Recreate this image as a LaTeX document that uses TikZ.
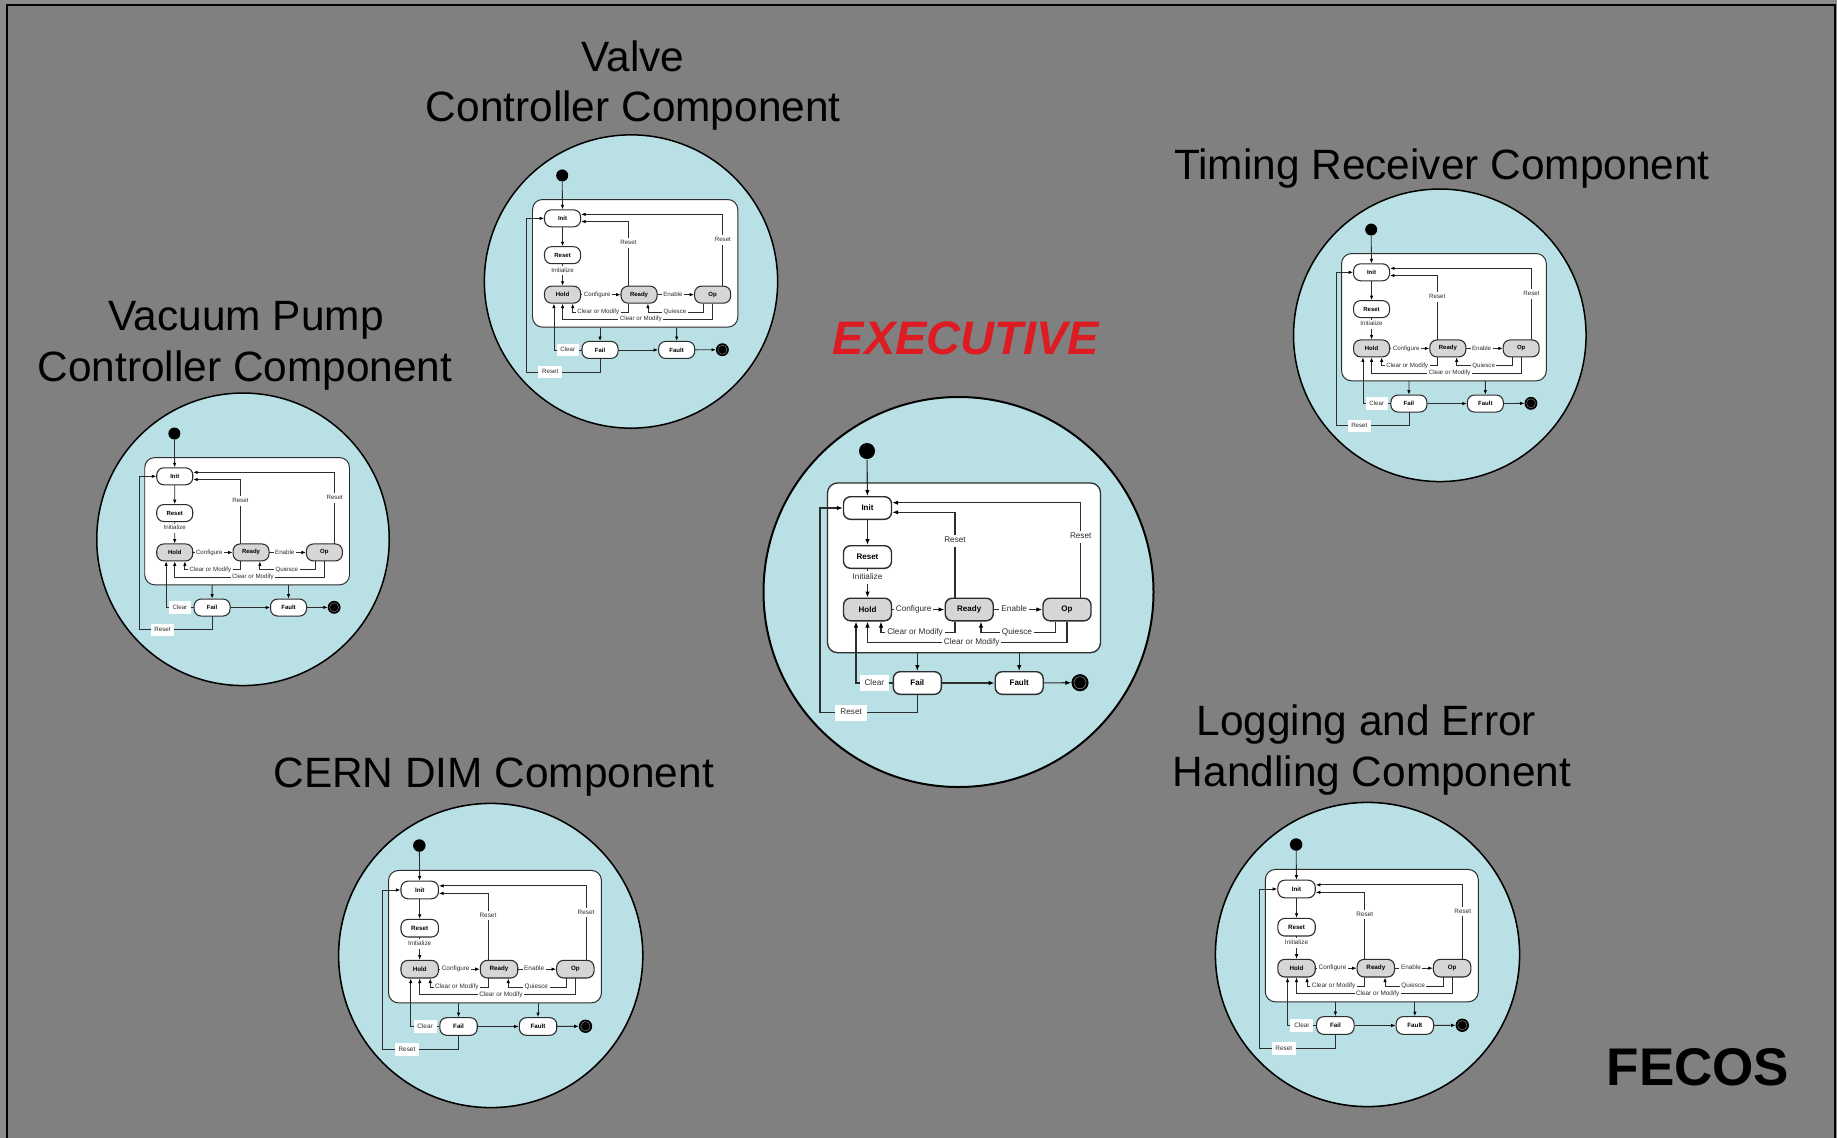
\documentclass[tikz,border=0pt]{standalone}
\usepackage{fontspec}
\setmainfont{Liberation Sans}
\usetikzlibrary{arrows.meta}
\definecolor{outergray}{RGB}{140,140,140}
\definecolor{bggray}{RGB}{128,128,128}
\definecolor{cyanfill}{RGB}{185,224,228}
\definecolor{stategray}{RGB}{214,214,214}
\definecolor{lncol}{RGB}{45,45,45}
\definecolor{exred}{RGB}{220,28,34}
\tikzset{
  stbox/.style={draw=lncol, rectangle, rounded corners=7pt, fill=white,
    minimum width=48pt, minimum height=22.6pt, inner sep=0pt,
    font=\fontsize{8}{9}\selectfont\bfseries, text=black},
  stgray/.style={stbox, fill=stategray},
  lbl/.style={fill=white, inner xsep=2pt, inner ysep=2.5pt, text height=5.8pt,
    text depth=1.6pt, font=\fontsize{8.2}{9}\selectfont, text=lncol},
  lblbox/.style={lbl, inner xsep=5pt, inner ysep=4.5pt},
  title/.style={anchor=base, font=\fontsize{42.4}{50}\selectfont, text=black, inner sep=0pt},
}
\newcommand\fsm[4]{%
\begin{scope}[shift={(#2,#3)}, scale=#4, transform shape, line width=#4*1.1pt,
  arr/.style={draw=lncol, -{Latex[length=6pt,width=4.5pt,scale=#4,color=black]}}]
  \node[circle, draw=black, line width=#4*2pt, fill=cyanfill, minimum size=390pt, inner sep=0pt] (#1circ) at (0,0) {};
  \node[draw=lncol, line width=#4*1.3pt, rounded corners=10pt, fill=white,
    minimum width=273pt, minimum height=169.7pt, inner sep=0pt] (#1box) at (5.5,-24.15) {};
  \node[circle, fill=black, minimum size=16pt, inner sep=0pt] (#1start) at (-91.5,-141) {};
  \node[stbox, line width=#4*1.4pt] (#1init) at (-91,-84) {Init};
  \node[stbox, line width=#4*1.4pt] (#1reset) at (-91,-35) {Reset};
  \node[stgray, line width=#4*1.4pt] (#1hold) at (-91,17.5) {Hold};
  \node[stgray, line width=#4*1.4pt] (#1ready) at (10.7,17.5) {Ready};
  \node[stgray, line width=#4*1.4pt] (#1op) at (108.5,17.5) {Op};
  \node[stbox, line width=#4*1.4pt] (#1fail) at (-41.2,91) {Fail};
  \node[stbox, line width=#4*1.4pt] (#1fault) at (60.7,91) {Fault};
  \node[circle, draw=black, fill=black, minimum size=16pt, inner sep=0pt] (#1end) at (121.5,90.7) {};
  \draw[gray, line width=#4*0.6pt] (#1end) circle (6pt);
  \coordinate (#1xa) at (-3.5,-79.7);
  \coordinate (#1xb) at (122.2,-89.3);
  \coordinate (#1xc) at (-77.5,40.7);
  \coordinate (#1xd) at (96.8,0);
  \coordinate (#1xe) at (22.5,40.7);
  \coordinate (#1xg) at (0,50.3);
  \coordinate (#1xh) at (-102.5,0);
  \coordinate (#1xi) at (-138.5,120.7);
  \draw[arr] (#1start) -- (#1init);
  \draw[arr] (#1init) -- (#1reset);
  \draw[arr] (#1reset) -- node[lbl,pos=0.3]{Initialize} (#1hold);
  \draw[arr] (#1hold) -- node[lbl,pos=0.41]{Configure} (#1ready);
  \draw[arr] (#1ready) -- node[lbl,pos=0.42]{Enable} (#1op);
  \draw[arr] (#1ready.north -| #1xa) |- node[lbl,pos=0.333]{Reset} (#1init.east |- #1xa);
  \draw[arr] (#1op.north -| #1xb) |- node[lbl,pos=0.32]{Reset} (#1init.east |- #1xb);
  \draw[arr] (#1ready.south -| #1xa) |- node[lbl,pos=0.77]{Clear or Modify} (#1xc) -- (#1hold.south -| #1xc);
  \draw[arr] (#1op.south -| #1xd) |- node[lbl,pos=0.758]{Quiesce} (#1xe) -- (#1ready.south -| #1xe);
  \draw[arr] (#1op.south) |- node[lbl,pos=0.739]{Clear or Modify} (#1hold.south |- #1xg) -- (#1hold.south);
  \draw[arr] (#1box.south -| #1fail) -- (#1fail);
  \draw[arr] (#1box.south -| #1fault) -- (#1fault);
  \draw[arr] (#1fail) -- (#1fault);
  \draw[arr] (#1fault) -- (#1end);
  \draw[arr] (#1fail.west) -| node[lblbox,pos=0.25]{Clear} (#1hold.south -| #1xh);
  \draw[arr] (#1fail.south) |- node[lblbox,pos=0.84]{Reset} (#1xi) |- (#1init.west);
\end{scope}}
\begin{document}
\begin{tikzpicture}[x=1pt,y=-1pt]
  \useasboundingbox (0,0) rectangle (1837,1138);
  \fill[outergray] (0,0) rectangle (1837,1138);
  \draw[black, line width=2pt, fill=bggray] (6.7,5) rectangle (1835,1148);
  % titles
  \node[title] (ttl-valve1) at (633,71.7) {Valve};
  \node[title] (ttl-valve2) at (633.3,121.7) {Controller Component};
  \node[title] (ttl-timing) at (1442,179.3) {Timing Receiver Component};
  \node[title] (ttl-vac1) at (246.2,330) {Vacuum Pump};
  \node[title] (ttl-vac2) at (245,381.7) {Controller Component};
  \node[title] (ttl-cern) at (493.7,787.3) {CERN DIM Component};
  \node[title] (ttl-log1) at (1366.3,735) {Logging and Error};
  \node[title] (ttl-log2) at (1372,786) {Handling Component};
  \node[anchor=base, font=\fontsize{47}{56}\selectfont\bfseries\itshape, text=exred, inner sep=0pt] (exec-title) at (966,354.3) {EXECUTIVE};
  \node[anchor=base, font=\fontsize{53}{60}\selectfont\bfseries, text=black, inner sep=0pt] (fecos) at (1698,1085) {FECOS};
  % components
  \fsm{ex}{958.5}{592}{1}
  \fsm{va}{631}{281.5}{0.752}
  \fsm{ti}{1439.8}{335.3}{0.75}
  \fsm{vp}{243}{539.3}{0.75}
  \fsm{ce}{490.7}{955.5}{0.78}
  \fsm{lo}{1367.5}{954.5}{0.78}
\end{tikzpicture}
\end{document}
